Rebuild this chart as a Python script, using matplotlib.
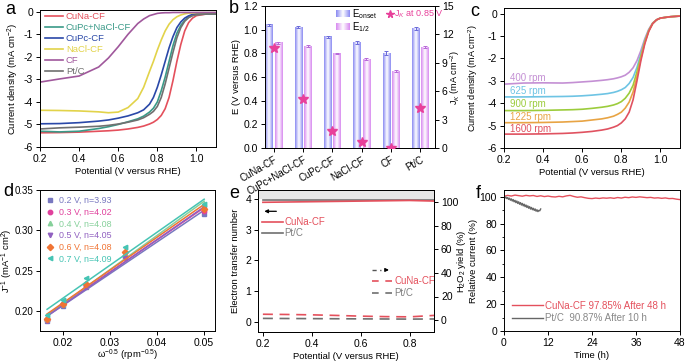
import numpy as np
import matplotlib
matplotlib.use('Agg')
import matplotlib.pyplot as plt
from matplotlib.colors import LinearSegmentedColormap
from matplotlib.ticker import MultipleLocator

plt.rcParams['font.family'] = ['Liberation Sans', 'DejaVu Sans']
plt.rcParams['font.size'] = 6.8
plt.rcParams['axes.linewidth'] = 0.7
plt.rcParams['axes.unicode_minus'] = False
plt.rcParams['axes.labelsize'] = 6.8
plt.rcParams['xtick.major.size'] = 3
plt.rcParams['ytick.major.size'] = 3
plt.rcParams['xtick.major.width'] = 0.7
plt.rcParams['ytick.major.width'] = 0.7
plt.rcParams['xtick.labelsize'] = 7.5
plt.rcParams['ytick.labelsize'] = 7.5
plt.rcParams['mathtext.fontset'] = 'custom'
plt.rcParams['mathtext.rm'] = 'Liberation Sans'
plt.rcParams['mathtext.it'] = 'Liberation Sans:italic'

# ---------------- data: panel a ----------------
pot_a = [0.2, 0.3, 0.4, 0.5, 0.55, 0.6, 0.65, 0.7, 0.73, 0.76, 0.78, 0.8, 0.82, 0.84,
         0.86, 0.88, 0.9, 0.92, 0.94, 0.96, 0.98, 1.0, 1.05, 1.1]
a_cuna = [-5.37, -5.36, -5.34, -5.3, -5.28, -5.25, -5.2, -5.13, -5.07, -4.98, -4.9, -4.78, -4.6, -4.3,
          -3.8, -3.05, -2.2, -1.45, -0.85, -0.48, -0.28, -0.17, -0.1, -0.08]
a_cupc_nacl = [-5.3, -5.33, -5.3, -5.18, -5.1, -5.0, -4.88, -4.75, -4.63, -4.45, -4.28, -4.0, -3.5, -2.9,
               -2.2, -1.5, -0.95, -0.6, -0.38, -0.24, -0.16, -0.12, -0.1, -0.1]
a_cupc = [-4.97, -4.96, -4.92, -4.85, -4.8, -4.72, -4.62, -4.48, -4.35, -4.1, -3.8, -3.35, -2.8, -2.2,
          -1.6, -1.1, -0.7, -0.45, -0.28, -0.18, -0.12, -0.09, -0.07, -0.07]
a_nacl = [-4.37, -4.38, -4.4, -4.44, -4.48, -4.45, -4.25, -3.85, -3.35, -2.65, -2.2, -1.7, -1.25, -0.85,
          -0.55, -0.35, -0.22, -0.14, -0.09, -0.06, -0.05, -0.04, -0.04, -0.04]
a_cf = [-3.12, -2.98, -2.85, -2.45, -2.05, -1.55, -1.0, -0.52, -0.32, -0.17, -0.12, -0.07, -0.05, -0.04,
        -0.04, -0.03, -0.03, -0.03, -0.03, -0.03, -0.03, -0.03, -0.03, -0.03]
a_ptc = [-5.2, -5.15, -5.12, -5.08, -5.04, -4.98, -4.9, -4.8, -4.7, -4.55, -4.42, -4.2, -3.8, -3.2,
         -2.5, -1.8, -1.15, -0.7, -0.42, -0.26, -0.17, -0.13, -0.1, -0.1]
a_labels = ['CuNa-CF', 'CuPc+NaCl-CF', 'CuPc-CF', 'NaCl-CF', 'CF', 'Pt/C']
a_colors = ['#e4505c', '#3a9a88', '#2a48a8', '#e2d34a', '#a0589c', '#707070']

# ---------------- data: panel b ----------------
b_cats = ['CuNa-CF', 'CuPc+NaCl-CF', 'CuPc-CF', 'NaCl-CF', 'CF', 'Pt/C']
e_onset = [1.04, 1.02, 0.94, 0.89, 0.80, 1.01]
e_onset_err = [0.01, 0.01, 0.008, 0.012, 0.018, 0.01]
e_half = [0.89, 0.86, 0.80, 0.75, 0.65, 0.85]
e_half_err = [0.008, 0.01, 0.006, 0.008, 0.01, 0.008]
jk = [10.6, 5.2, 1.75, 0.6, 0.05, 4.2]

# ---------------- data: panel c ----------------
pot_c = pot_a
c_1600 = [-5.38, -5.38, -5.37, -5.35, -5.33, -5.3, -5.26, -5.2, -5.15, -5.07, -5.0, -4.88, -4.7, -4.4,
          -3.85, -3.0, -2.1, -1.35, -0.8, -0.45, -0.28, -0.2, -0.14, -0.11]
c_1225 = [-4.87, -4.87, -4.86, -4.84, -4.82, -4.8, -4.75, -4.7, -4.65, -4.58, -4.5, -4.4, -4.22, -3.95,
          -3.5, -2.8, -2.0, -1.3, -0.78, -0.45, -0.28, -0.2, -0.14, -0.11]
c_900 = [-4.33, -4.33, -4.32, -4.3, -4.29, -4.27, -4.23, -4.18, -4.14, -4.08, -4.02, -3.93, -3.78, -3.55,
         -3.2, -2.6, -1.9, -1.25, -0.76, -0.44, -0.28, -0.2, -0.14, -0.11]
c_625 = [-3.72, -3.72, -3.71, -3.7, -3.69, -3.67, -3.64, -3.6, -3.57, -3.52, -3.47, -3.4, -3.3, -3.12,
         -2.85, -2.4, -1.8, -1.2, -0.74, -0.44, -0.28, -0.2, -0.14, -0.11]
c_400 = [-3.15, -3.1, -3.09, -3.1, -3.08, -3.05, -3.02, -2.98, -2.95, -2.91, -2.87, -2.82, -2.75, -2.62,
         -2.42, -2.1, -1.65, -1.12, -0.7, -0.42, -0.27, -0.2, -0.14, -0.11]
c_labels = ['400 rpm', '625 rpm', '900 rpm', '1225 rpm', '1600 rpm']
c_colors = ['#c490d4', '#6ec4e4', '#9ccc3c', '#e8a444', '#e05260']
c_label_y = [-2.86, -3.45, -4.05, -4.6, -5.13]

# ---------------- data: panel d ----------------
omega = [0.0167, 0.02, 0.025, 0.0333, 0.05]
d_series = {
    '0.2 V, n=3.93': [0.187, 0.206, 0.230, 0.267, 0.320],
    '0.3 V, n=4.02': [0.189, 0.208, 0.231, 0.268, 0.324],
    '0.4 V, n=4.08': [0.190, 0.209, 0.232, 0.270, 0.333],
    '0.5 V, n=4.05': [0.189, 0.207, 0.230, 0.266, 0.326],
    '0.6 V, n=4.08': [0.190, 0.209, 0.233, 0.273, 0.327],
    '0.7 V, n=4.09': [0.195, 0.214, 0.241, 0.279, 0.333],
}
d_colors = ['#7878c0', '#e0409c', '#86d09a', '#9060c0', '#f07434', '#46c4b4']
d_markers = ['s', 'o', '^', 'v', 'D', '<']

# ---------------- data: panel e ----------------
pot_e = [0.2, 0.3, 0.4, 0.5, 0.6, 0.7, 0.8, 0.9]
n_cuna = [3.89, 3.90, 3.91, 3.92, 3.93, 3.94, 3.95, 3.93]
n_ptc = [3.97, 3.97, 3.97, 3.97, 3.97, 3.97, 3.97, 3.97]
h2o2_cuna = [5.0, 4.8, 4.5, 4.0, 3.4, 3.0, 2.8, 4.0]
h2o2_ptc = [1.5, 1.4, 1.3, 1.2, 1.1, 1.0, 0.9, 1.0]

# ---------------- data: panel f ----------------
t_cuna = list(range(0, 49))
f_cuna = [100.3, 101.0, 100.5, 101.2, 100.8, 100.4, 101.0, 100.6, 100.9, 100.2, 100.7, 100.1, 100.5,
          100.0, 99.8, 100.3, 99.9, 100.6, 101.0, 100.2, 99.6, 99.9, 99.3, 98.8, 98.6, 99.0, 98.7,
          99.1, 98.9, 99.2, 98.8, 99.4, 99.0, 99.6, 99.3, 99.8, 99.5, 99.9, 99.6, 99.3, 99.5, 99.0,
          99.2, 98.8, 99.1, 98.6, 98.7, 98.2, 97.85]
t_ptc = [i * 0.25 for i in range(41)]
f_ptc = [100.2, 99.0, 99.8, 98.6, 99.4, 98.0, 98.9, 97.4, 98.4, 96.8, 97.9, 96.2, 97.3, 95.6, 96.8,
         95.0, 96.2, 94.4, 95.6, 93.8, 95.0, 93.2, 94.4, 92.6, 93.8, 92.0, 93.2, 91.4, 92.6, 90.8,
         92.0, 90.3, 91.4, 89.8, 90.9, 89.2, 90.3, 88.9, 89.8, 89.5, 90.87]

fig = plt.figure(figsize=(6.85, 3.62), dpi=100)
W, H = 685.0, 362.0


def add_ax(l, r, t, b):
    return fig.add_axes([l / W, 1 - b / H, (r - l) / W, (b - t) / H])


def style(ax):
    ax.tick_params(direction='out', top=False, right=False, pad=2)


# ---------------- panel a ----------------
ax = add_ax(40, 216, 10, 147)
curves_a = [a_cuna, a_cupc_nacl, a_cupc, a_nacl, a_cf, a_ptc]
for ys, lab, col in zip(curves_a, a_labels, a_colors):
    ax.plot(pot_a, ys, color=col, lw=1.2, label=lab)
ax.set_xlim(0.2, 1.1)
ax.set_ylim(-6, 0.08)
ax.set_xticks([0.2, 0.4, 0.6, 0.8, 1.0])
ax.set_yticks([0, -1, -2, -3, -4, -5, -6])
ax.set_xlabel('Potential (V versus RHE)', labelpad=2)
ax.set_ylabel('Current density (mA cm$^{-2}$)', labelpad=2)
style(ax)
leg = ax.legend(loc='upper left', bbox_to_anchor=(0.0, 1.02), frameon=False, fontsize=6.8,
                handlelength=1.9, handletextpad=0.3, labelspacing=0.2, borderaxespad=0.15,
                labelcolor='linecolor')
fig.text(5 / W, 1 - 14 / H, 'a', fontsize=13)

# ---------------- panel b ----------------
ax = add_ax(265, 435, 6, 148)
x = np.arange(len(b_cats))
bw = 0.26
off = 0.16


def grad_cmap(c):
    return LinearSegmentedColormap.from_list('g', [c, '#ffffff', c])


cm_on = grad_cmap('#8a8af2')
cm_half = grad_cmap('#d88af0')
grad = np.linspace(0, 1, 64).reshape(1, -1)
for i in range(len(b_cats)):
    ax.imshow(grad, extent=[x[i] - off - bw / 2, x[i] - off + bw / 2, 0, e_onset[i]],
              cmap=cm_on, aspect='auto', zorder=2, interpolation='bilinear')
    ax.imshow(grad, extent=[x[i] + off - bw / 2, x[i] + off + bw / 2, 0, e_half[i]],
              cmap=cm_half, aspect='auto', zorder=2, interpolation='bilinear')
ax.errorbar(x - off, e_onset, yerr=e_onset_err, fmt='none', ecolor='#6a6ad8', elinewidth=0.7,
            capsize=1.5, capthick=0.7, zorder=3)
ax.errorbar(x + off, e_half, yerr=e_half_err, fmt='none', ecolor='#b868d8', elinewidth=0.7,
            capsize=1.5, capthick=0.7, zorder=3)
ax.set_xlim(-0.3, 5.5)
ax.set_ylim(0, 1.2)
ax.set_yticks([0.0, 0.2, 0.4, 0.6, 0.8, 1.0, 1.2])
ax.set_yticklabels(['0.0', '0.2', '0.4', '0.6', '0.8', '1.0', '1.2'])
ax.set_xticks(x)
ax.set_xticklabels(b_cats, rotation=30, ha='right', rotation_mode='anchor', fontsize=7)
ax.set_ylabel('E (V versus RHE)', labelpad=2)
style(ax)
ax2 = ax.twinx()
ax2.plot(x, jk, linestyle='none', marker='*', markersize=7, color='#e8409a', zorder=5)
ax2.set_ylim(0, 15)
ax2.set_yticks([0, 3, 6, 9, 12, 15])
ax2.set_ylabel('J$_K$ (mA cm$^{-2}$)', fontsize=6.6)
ax2.yaxis.set_label_coords(1.078, 0.5)
ax2.tick_params(direction='out', pad=2)
# legend (gradient patches)
ax.imshow(grad, extent=[0.42, 0.50, 0.92, 0.965], transform=ax.transAxes, cmap=cm_on,
          aspect='auto', zorder=6)
ax.imshow(grad, extent=[0.42, 0.50, 0.83, 0.875], transform=ax.transAxes, cmap=cm_half,
          aspect='auto', zorder=6)
ax.set_xlim(-0.3, 5.5)
ax.set_ylim(0, 1.2)
ax.text(0.51, 0.942, 'E$_{\\rm onset}$', transform=ax.transAxes, va='center', fontsize=7)
ax.text(0.51, 0.852, 'E$_{1/2}$', transform=ax.transAxes, va='center', fontsize=7)
ax.plot([0.735], [0.944], transform=ax.transAxes, marker='*', color='#e8409a', markersize=5.5,
        clip_on=False)
ax.text(0.76, 0.942, 'J$_K$ at 0.85 V', transform=ax.transAxes, va='center', fontsize=6.5,
        color='#e8409a')
fig.text(229 / W, 1 - 13 / H, 'b', fontsize=13)

# ---------------- panel c ----------------
ax = add_ax(504, 680, 8, 148)
curves_c = [c_400, c_625, c_900, c_1225, c_1600]
for ys, lab, col, ly in zip(curves_c, c_labels, c_colors, c_label_y):
    ax.plot(pot_c, ys, color=col, lw=1.2)
    ax.text(0.23, ly, lab, color=col, fontsize=7, va='center')
ax.set_xlim(0.2, 1.1)
ax.set_ylim(-6, 0.25)
ax.set_xticks([0.2, 0.4, 0.6, 0.8, 1.0])
ax.set_yticks([0, -1, -2, -3, -4, -5, -6])
ax.set_xlabel('Potential (V versus RHE)', labelpad=2)
ax.set_ylabel('Current density (mA cm$^{-2}$)', fontsize=6.6)
ax.yaxis.set_label_coords(-0.135, 0.5)
style(ax)
fig.text(470 / W, 1 - 16 / H, 'c', fontsize=13)

# ---------------- panel d ----------------
ax = add_ax(40, 215, 190, 331)
for (lab, ys), col, mk in zip(d_series.items(), d_colors, d_markers):
    ax.plot(omega, ys, linestyle='none', marker=mk, color=col, markersize=3.2, label=lab)
    k, b0 = np.polyfit(omega, ys, 1)
    xx = np.array([omega[0], omega[-1]])
    ax.plot(xx, k * xx + b0, color=col, lw=1.1)
ax.set_xlim(0.0152, 0.0523)
ax.set_ylim(0.175, 0.35)
ax.set_xticks([0.02, 0.03, 0.04, 0.05])
ax.set_yticks([0.20, 0.25, 0.30, 0.35])
ax.set_yticklabels(['0.20', '0.25', '0.30', '0.35'])
ax.tick_params(axis='y', labelsize=7)
ax.set_xlabel('ω$^{-0.5}$ (rpm$^{-0.5}$)', labelpad=0)
ax.set_ylabel('J$^{-1}$ (mA$^{-1}$ cm$^{2}$)')
ax.yaxis.set_label_coords(-0.14, 0.5)
style(ax)
ax.legend(loc='upper left', frameon=False, fontsize=6.4, handlelength=0.8, handletextpad=0.6,
          labelspacing=0.3, borderaxespad=0.3, labelcolor='markerfacecolor')
fig.text(3 / W, 1 - 196 / H, 'd', fontsize=13)

# ---------------- panel e ----------------
ax = add_ax(258, 434, 190, 332)
ax.axhspan(4.0, 4.4, color='#e6e6e6', zorder=0, lw=0)
ax.plot(pot_e, n_ptc, color='#707070', lw=1.2)
ax.plot(pot_e, n_cuna, color='#e4505c', lw=1.2)
ax.set_xlim(0.18, 0.9)
ax.set_ylim(-0.325, 4.29)
ax.set_xticks([0.2, 0.4, 0.6, 0.8])
ax.set_yticks([0, 1, 2, 3, 4])
ax.set_xlabel('Potential (V versus RHE)', labelpad=2)
ax.set_ylabel('Electron transfer number', labelpad=4)
style(ax)
ax3 = ax.twinx()
ax3.plot(pot_e, h2o2_cuna, color='#e4505c', lw=1.2, dashes=(6, 4))
ax3.plot(pot_e, h2o2_ptc, color='#707070', lw=1.2, dashes=(6, 4))
ax3.set_ylim(-10, 110)
ax3.set_yticks([0, 20, 40, 60, 80, 100])
ax3.set_ylabel('H$_2$O$_2$ yield (%)')
ax3.yaxis.set_label_coords(1.118, 0.5)
ax3.tick_params(direction='out', pad=2)
# manual legends
T = ax.transAxes
ax.annotate('', xy=(0.02, 0.85), xytext=(0.12, 0.85), xycoords=T, textcoords=T,
            arrowprops=dict(arrowstyle='-|>', color='black', lw=0.9, mutation_scale=5))
ax.plot([0.02, 0.14], [0.775, 0.775], transform=T, color='#e4505c', lw=1.2)
ax.text(0.15, 0.775, 'CuNa-CF', transform=T, color='#e4505c', va='center', fontsize=7)
ax.plot([0.02, 0.14], [0.70, 0.70], transform=T, color='#707070', lw=1.2)
ax.text(0.15, 0.70, 'Pt/C', transform=T, color='#808080', va='center', fontsize=7)
ax.plot([0.65, 0.70], [0.437, 0.437], transform=T, color='#555555', lw=1.0, dashes=(3, 2.5))
ax.annotate('', xy=(0.76, 0.437), xytext=(0.71, 0.437), xycoords=T, textcoords=T,
            arrowprops=dict(arrowstyle='-|>', color='black', lw=0.9, mutation_scale=5))
ax.plot([0.65, 0.77], [0.36, 0.36], transform=T, color='#e4505c', lw=1.2, dashes=(4, 4))
ax.text(0.775, 0.36, 'CuNa-CF', transform=T, color='#e4505c', va='center', fontsize=7)
ax.plot([0.65, 0.77], [0.275, 0.275], transform=T, color='#707070', lw=1.2, dashes=(4, 4))
ax.text(0.775, 0.275, 'Pt/C', transform=T, color='#808080', va='center', fontsize=7)
fig.text(229 / W, 1 - 198 / H, 'e', fontsize=13)

# ---------------- panel f ----------------
ax = add_ax(504, 680, 190, 331)
ax.plot(t_cuna, f_cuna, color='#e4505c', lw=1.0, label='CuNa-CF 97.85% After 48 h')
ax.plot(t_ptc, f_ptc, color='#666666', lw=1.0, label='Pt/C  90.87% After 10 h')
ax.set_xlim(0, 48)
ax.set_ylim(0, 105)
ax.set_xticks([0, 12, 24, 36, 48])
ax.set_yticks([0, 20, 40, 60, 80, 100])
ax.yaxis.set_minor_locator(MultipleLocator(10))
ax.tick_params(which='minor', direction='out', length=1.5, width=0.6)
ax.set_xlabel('Time (h)', labelpad=2)
ax.set_ylabel('Relative current (%)')
ax.yaxis.set_label_coords(-0.145, 0.5)
style(ax)
leg = ax.legend(loc='lower left', frameon=False, fontsize=7, handlelength=3.2,
                handletextpad=0.2, labelspacing=0.25, borderaxespad=0.4)
for txt, col in zip(leg.get_texts(), ['#e4505c', '#888888']):
    txt.set_color(col)
fig.text(476 / W, 1 - 198 / H, 'f', fontsize=13)

fig.savefig('out.png', dpi=100)
